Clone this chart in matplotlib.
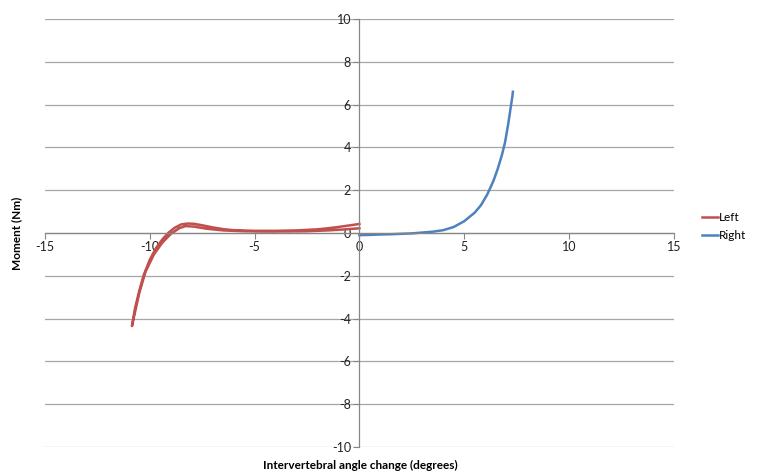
import matplotlib.pyplot as plt

# Left side: loading and unloading branches (degrees, Nm)
left_x = [0.0, -0.5, -1.0, -1.5, -2.0, -3.0, -4.0, -5.0, -6.0, -6.5, -7.0, -7.5,
          -7.9, -8.2, -8.5, -8.8, -9.1, -9.4, -9.7, -10.0, -10.3, -10.5, -10.7, -10.85,
          -10.75, -10.5, -10.2, -9.8, -9.4, -9.0, -8.6, -8.3, -7.9, -7.3, -6.5,
          -5.5, -4.5, -3.5, -2.5, -1.5, -0.8, 0.0]
left_y = [0.42, 0.35, 0.28, 0.22, 0.17, 0.12, 0.10, 0.10, 0.13, 0.18, 0.26, 0.36,
          0.43, 0.44, 0.40, 0.25, 0.02, -0.30, -0.70, -1.25, -2.0, -2.7, -3.5, -4.35,
          -3.9, -2.8, -1.8, -1.0, -0.45, -0.05, 0.22, 0.32, 0.30, 0.20, 0.12,
          0.08, 0.07, 0.07, 0.08, 0.12, 0.16, 0.22]

# Right side
right_x = [0.0, 0.5, 1.0, 1.5, 2.0, 2.5, 3.0, 3.5, 4.0, 4.5, 5.0, 5.5, 5.8,
           6.1, 6.4, 6.6, 6.8, 6.95, 7.1, 7.2, 7.3, 7.32]
right_y = [-0.10, -0.09, -0.07, -0.06, -0.04, -0.02, 0.02, 0.06, 0.13, 0.28,
           0.55, 0.95, 1.3, 1.8, 2.45, 3.0, 3.65, 4.25, 5.1, 5.75, 6.4, 6.6]

plt.rcParams['font.family'] = ['Lato', 'DejaVu Sans']
plt.rcParams['axes.unicode_minus'] = False

fig = plt.figure(figsize=(7.66, 4.74), dpi=100)
ax = fig.add_axes([0.0587, 0.057, 0.821, 0.903])

ax.plot(left_x, left_y, color='#C0504D', lw=1.8, label='Left')
ax.plot(right_x, right_y, color='#4F81BD', lw=1.8, label='Right')

ax.set_xlim(-15, 15)
ax.set_ylim(-10, 10)
ax.set_xticks(range(-15, 16, 5))
ax.set_yticks(range(-10, 11, 2))

# axes cross at the origin, Excel style
ax.spines['left'].set_position(('data', 0))
ax.spines['bottom'].set_position(('data', 0))
ax.spines['top'].set_visible(False)
ax.spines['right'].set_visible(False)
for s in ('left', 'bottom'):
    ax.spines[s].set_color('#868686')
    ax.spines[s].set_linewidth(0.9)

ax.grid(axis='y', color='#A6A6A6', lw=0.9)
ax.set_axisbelow(True)
ax.tick_params(length=4, width=0.8, color='#868686', labelsize=9,
               labelcolor='#222222', pad=2)

fig.text(0.022, 0.507, 'Moment (Nm)', rotation=90, ha='center', va='center',
         fontsize=8.5, fontweight='bold')
fig.text(0.47, 0.019, 'Intervertebral angle change (degrees)', ha='center',
         va='center', fontsize=8.5, fontweight='bold')

fig.legend(loc='center left', bbox_to_anchor=(0.902, 0.522), frameon=False,
           fontsize=8.5, handlelength=1.4, handletextpad=0.1, labelspacing=0.6)

fig.savefig('out.png', dpi=100)
